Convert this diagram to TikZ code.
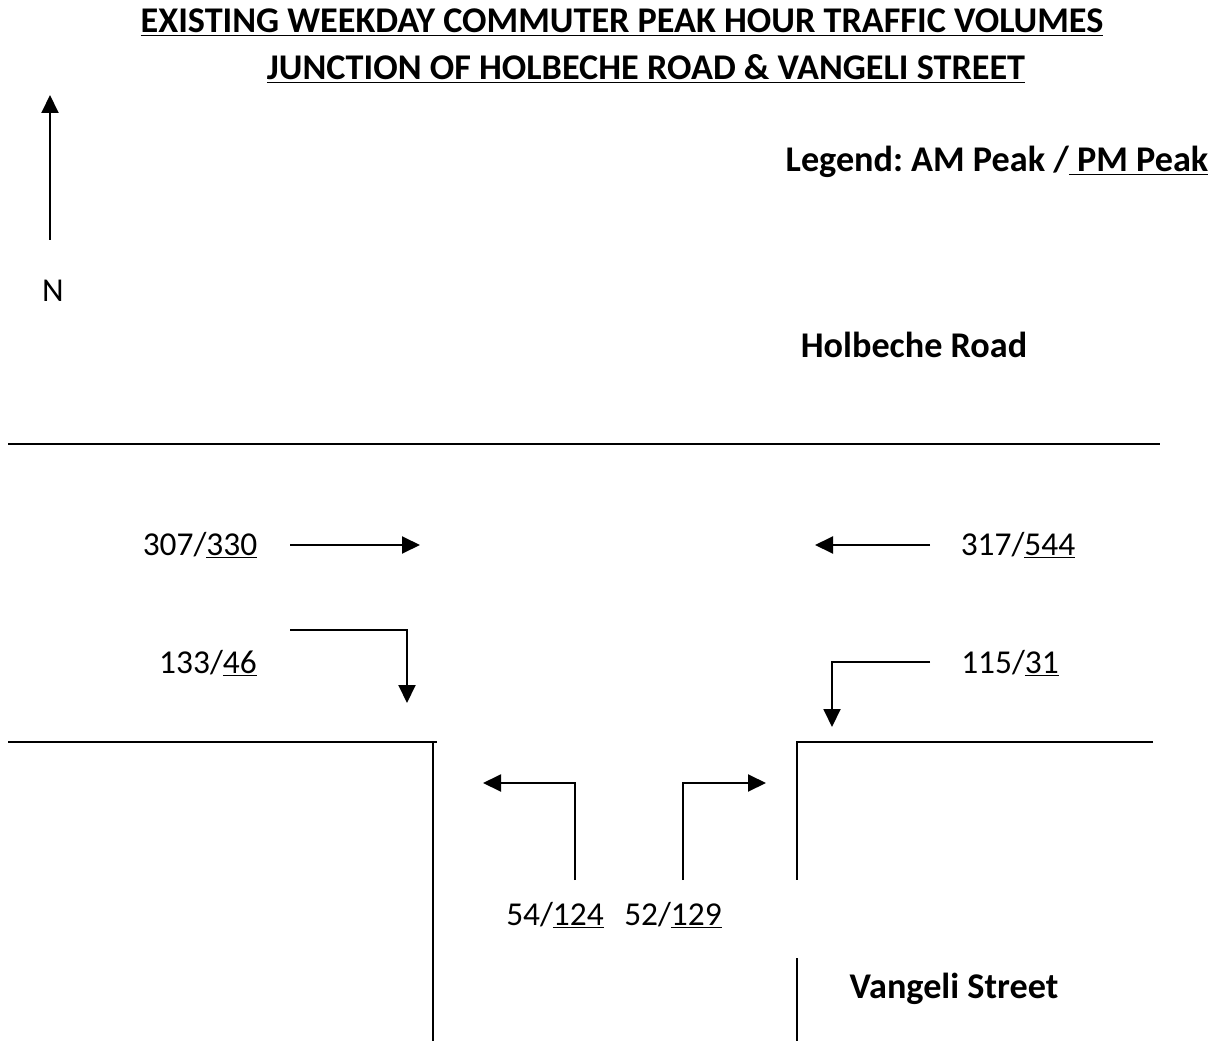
\documentclass[tikz,border=0pt]{standalone}
\usepackage{fontspec}
\setmainfont{Carlito}
\usetikzlibrary{arrows.meta}
\frenchspacing

\tikzset{
  road/.style={line width=1.1pt},
  flow/.style={line width=1.1pt,-{Triangle[length=0.36cm,width=0.34cm]}},
  vol/.style={anchor=base,font=\fontsize{19}{22}\selectfont},
  head/.style={anchor=base,font=\bfseries\fontsize{20.6}{24}\selectfont}
}

\begin{document}
\begin{tikzpicture}[line cap=butt,line join=miter]
  \useasboundingbox (0,0) rectangle (24.48,-20.82);
  % titles and legend
  \node[head] (t1) at (12.44,-0.66) {\underline{EXISTING WEEKDAY COMMUTER PEAK HOUR TRAFFIC VOLUMES}};
  \node[head] (t2) at (12.92,-1.60) {\underline{JUNCTION OF HOLBECHE ROAD \& VANGELI STREET}};
  \node[head] (leg) at (19.94,-3.44) {Legend: AM Peak /\underline{\ PM Peak}};
  % north arrow
  \coordinate (Nb) at (1.0,-4.8);
  \coordinate (Nt) at (1.0,-1.9);
  \draw[flow] (Nb) -- (Nt);
  \node[vol] (N) at (1.06,-6.04) {N};
  % road edges
  \draw[road] (0.16,-8.88) -- (23.2,-8.88);
  \draw[road] (0.16,-14.84) -- (8.74,-14.84);
  \draw[road] (8.66,-14.84) -- (8.66,-20.82);
  \draw[road] (23.06,-14.84) -- (15.94,-14.84) -- (15.94,-17.6);
  \draw[road] (15.94,-19.16) -- (15.94,-20.82);
  \node[head] (hr) at (18.28,-7.16) {Holbeche Road};
  \node[head] (vs) at (19.08,-19.96) {Vangeli Street};
  % west approach
  \node[vol] (eth) at (4.0,-11.1) {307/\underline{330}};
  \draw[flow] (5.8,-10.9) -- (8.4,-10.9);
  \node[vol] (ert) at (4.16,-13.46) {133/\underline{46}};
  \draw[flow] (5.8,-12.6) -- (8.14,-12.6) -- (8.14,-14.06);
  % east approach
  \node[vol] (wth) at (20.36,-11.1) {317/\underline{544}};
  \draw[flow] (18.6,-10.9) -- (16.3,-10.9);
  \node[vol] (wlt) at (20.2,-13.46) {115/\underline{31}};
  \draw[flow] (18.6,-13.24) -- (16.64,-13.24) -- (16.64,-14.54);
  % south approach
  \node[vol] (slt) at (11.1,-18.5) {54/\underline{124}};
  \draw[flow] (11.5,-17.6) -- (11.5,-15.66) -- (9.66,-15.66);
  \node[vol] (srt) at (13.46,-18.5) {52/\underline{129}};
  \draw[flow] (13.66,-17.6) -- (13.66,-15.66) -- (15.32,-15.66);
\end{tikzpicture}
\end{document}
